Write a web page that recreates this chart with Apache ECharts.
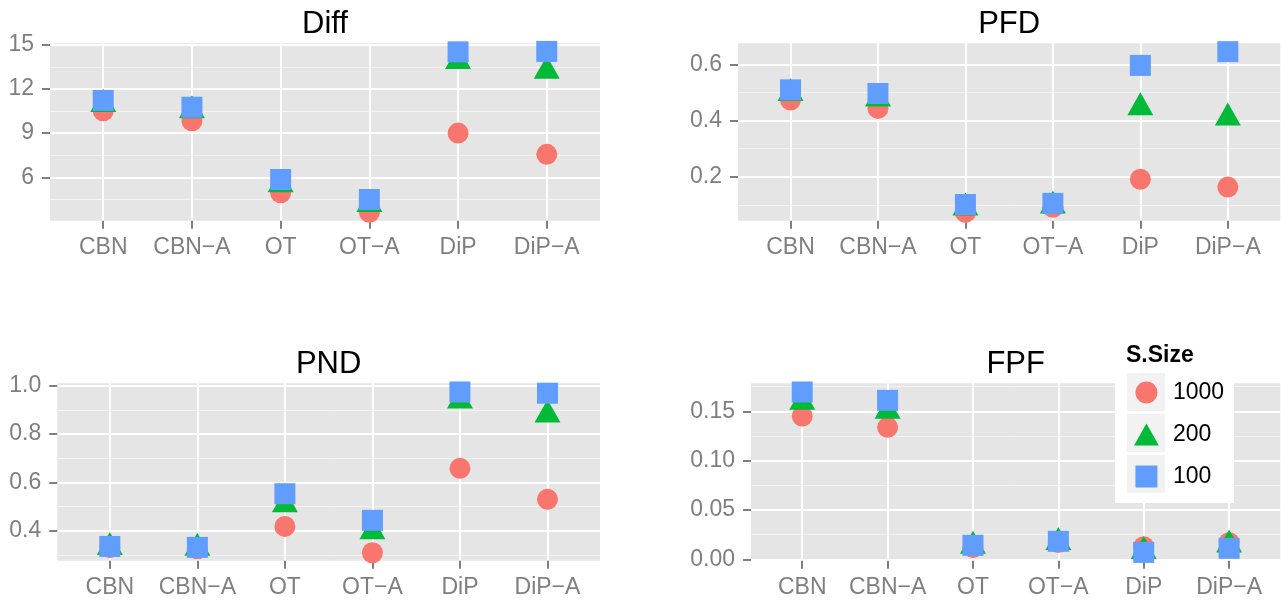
<!DOCTYPE html>
<html><head><meta charset="utf-8">
<script src="https://cdn.jsdelivr.net/npm/echarts@6/dist/echarts.min.js"></script>
<style>
html,body{margin:0;padding:0;background:#fff}
#wrap{position:relative;width:1288px;height:603px}
.layer{position:absolute;left:0;top:0;width:1288px;height:603px;pointer-events:none}
</style>
</head><body><div id="wrap"></div>
<script>
// ---------- data ----------
const categories = ['CBN', 'CBN\u2212A', 'OT', 'OT\u2212A', 'DiP', 'DiP\u2212A'];
const sizeLevels = ['1000', '200', '100'];

const diff1000 = [10.52, 9.84, 4.95, 3.62, 9.00, 7.56];
const diff200  = [10.95, 10.53, 5.50, 4.17, 13.87, 13.21];
const diff100  = [11.22, 10.76, 5.85, 4.49, 14.52, 14.55];

const pfd1000 = [0.473, 0.443, 0.073, 0.091, 0.191, 0.163];
const pfd200  = [0.497, 0.477, 0.089, 0.096, 0.446, 0.410];
const pfd100  = [0.509, 0.496, 0.101, 0.105, 0.596, 0.645];

const pnd1000 = [0.330, 0.325, 0.418, 0.309, 0.658, 0.530];
const pnd200  = [0.331, 0.328, 0.508, 0.397, 0.938, 0.880];
const pnd100  = [0.335, 0.331, 0.553, 0.443, 0.974, 0.969];

const fpf1000 = [0.1452, 0.1338, 0.0120, 0.0170, 0.0128, 0.0168];
const fpf200  = [0.1594, 0.1503, 0.0134, 0.0173, 0.0082, 0.0147];
const fpf100  = [0.1696, 0.1611, 0.0142, 0.0182, 0.0070, 0.0111];

const diffTicks = [6, 9, 12, 15];
const diffTickLabels = ['6', '9', '12', '15'];
const diffMinor = [4.5, 7.5, 10.5, 13.5];
const pfdTicks = [0.2, 0.4, 0.6];
const pfdTickLabels = ['0.2', '0.4', '0.6'];
const pfdMinor = [0.1, 0.3, 0.5];
const pndTicks = [0.4, 0.6, 0.8, 1.0];
const pndTickLabels = ['0.4', '0.6', '0.8', '1.0'];
const pndMinor = [0.3, 0.5, 0.7, 0.9];
const fpfTicks = [0, 0.05, 0.10, 0.15];
const fpfTickLabels = ['0.00', '0.05', '0.10', '0.15'];
const fpfMinor = [0.025, 0.075, 0.125, 0.175];

const panelTitles = ['Diff', 'PFD', 'PND', 'FPF'];
const legendTitle = 'S.Size';

// ---------- layout / style ----------
const FONT = 'Liberation Sans';
const colors = ['#F8766D', '#00BA38', '#619CFF'];
const panels = [
  { title: panelTitles[0], grid: {left: 50, top: 43.3, width: 550, height: 177.4}, range: [3.05, 15.1],
    ticks: diffTicks, labels: diffTickLabels, minor: diffMinor, series: [diff1000, diff200, diff100] },
  { title: panelTitles[1], grid: {left: 738, top: 43.3, width: 542.3, height: 177.4}, range: [0.0434, 0.6747],
    ticks: pfdTicks, labels: pfdTickLabels, minor: pfdMinor, series: [pfd1000, pfd200, pfd100] },
  { title: panelTitles[2], grid: {left: 57.3, top: 383.3, width: 542.7, height: 177.4}, range: [0.276, 1.0099],
    ticks: pndTicks, labels: pndTickLabels, minor: pndMinor, series: [pnd1000, pnd200, pnd100] },
  { title: panelTitles[3], grid: {left: 751, top: 383.3, width: 529.3, height: 177.4}, range: [-0.0014, 0.1784],
    ticks: fpfTicks, labels: fpfTickLabels, minor: fpfMinor, series: [fpf1000, fpf200, fpf100] }
];
const symbols = [
  { symbol: 'circle', size: 21, offset: [0, 0] },
  { symbol: 'triangle', size: [26, 23], offset: [0, -3.8] },
  { symbol: 'rect', size: 21, offset: [0, 0] }
];

const wrap = document.getElementById('wrap');
function newLayer() {
  const d = document.createElement('div');
  d.className = 'layer';
  wrap.appendChild(d);
  return echarts.init(d);
}

// ---------- one chart instance per panel ----------
const catIdx = categories.map((c, i) => i);
const titles = [];
panels.forEach((p) => {
  titles.push({
    text: p.title, left: p.grid.left + p.grid.width / 2, textAlign: 'center',
    top: p.grid.top - 34, padding: 0,
    textStyle: { fontFamily: FONT, fontSize: 31, fontWeight: 'normal', color: '#000' }
  });
  const lbl = p.labels, tks = p.ticks;
  const ch = newLayer();
  ch.setOption({
    animation: false,
    grid: [Object.assign({ show: true, backgroundColor: '#E5E5E5', borderWidth: 0 }, p.grid)],
    xAxis: [{
      type: 'value', gridIndex: 0, min: -0.6, max: 5.6, position: 'bottom',
      axisLine: { show: false, onZero: false },
      axisTick: { show: true, length: 8, customValues: catIdx, lineStyle: { color: '#7F7F7F', width: 2 } },
      axisLabel: { show: true, customValues: catIdx, margin: 15, formatter: v => categories[Math.round(v)],
        fontFamily: FONT, fontSize: 23, color: '#7F7F7F' },
      splitLine: { show: true, lineStyle: { color: '#FFFFFF', width: 2 } }
    }],
    yAxis: [{
      type: 'value', gridIndex: 0, min: p.range[0], max: p.range[1], position: 'left',
      axisLine: { show: false, onZero: false },
      axisTick: { show: true, length: 8, customValues: tks, lineStyle: { color: '#7F7F7F', width: 2 } },
      axisLabel: { show: true, customValues: tks, margin: 16,
        formatter: v => { const k = tks.findIndex(t => Math.abs(t - v) < 1e-9); return k >= 0 ? lbl[k] : ''; },
        fontFamily: FONT, fontSize: 23, color: '#7F7F7F' },
      splitLine: { show: true, lineStyle: { color: '#FFFFFF', width: 2 } }
    }, {
      type: 'value', gridIndex: 0, min: p.range[0], max: p.range[1], position: 'right',
      axisLine: { show: false, onZero: false },
      axisTick: { show: false, customValues: p.minor },
      axisLabel: { show: false },
      splitLine: { show: true, lineStyle: { color: '#F2F2F2', width: 1 } }
    }],
    series: p.series.map((vals, si) => ({
      type: 'scatter', name: sizeLevels[si], xAxisIndex: 0, yAxisIndex: 0,
      symbol: symbols[si].symbol, symbolSize: symbols[si].size, symbolOffset: symbols[si].offset,
      itemStyle: { color: colors[si], opacity: 1 },
      data: vals.map((v, i) => [i, v]), z: 2 + si
    }))
  });
});

// ---------- overlay: titles and legend ----------
titles.push({
  text: legendTitle, left: 1126, top: 344, padding: 0, z: 12,
  textStyle: { fontFamily: FONT, fontSize: 23, fontWeight: 'bold', color: '#000' }
});
const overlay = newLayer();
overlay.setOption({
  animation: false,
  title: titles,
  grid: { left: 0, top: 0, width: 1, height: 1, show: false },
  xAxis: { type: 'value', show: false },
  yAxis: { type: 'value', show: false },
  series: sizeLevels.map((name, si) => ({
    type: 'scatter', name: name, symbol: symbols[si].symbol,
    itemStyle: { color: colors[si], opacity: 1 }, data: []
  })),
  legend: {
    data: [
      { name: sizeLevels[0], icon: 'circle' },
      { name: sizeLevels[1], icon: 'path://M13,0L26,23L0,23Z' },
      { name: sizeLevels[2], icon: 'path://M0,0L10,0L10,10L0,10Z' }
    ],
    orient: 'vertical', left: 1134, top: 381, padding: 0,
    itemWidth: 43, itemHeight: 22, itemGap: 19, selectedMode: false, z: 10,
    symbolKeepAspect: true,
    textStyle: { fontFamily: FONT, fontSize: 23, color: '#000', lineHeight: 22 }
  },
  graphic: [
    { type: 'rect', z: 8, shape: { x: 1115, y: 336, width: 119, height: 167 }, style: { fill: '#FFFFFF' } },
    { type: 'rect', z: 9, shape: { x: 1127, y: 373, width: 38, height: 38 }, style: { fill: '#F2F2F2' } },
    { type: 'rect', z: 9, shape: { x: 1127, y: 414, width: 38, height: 38 }, style: { fill: '#F2F2F2' } },
    { type: 'rect', z: 9, shape: { x: 1127, y: 455, width: 38, height: 38 }, style: { fill: '#F2F2F2' } }
  ]
});
</script>
</body></html>
